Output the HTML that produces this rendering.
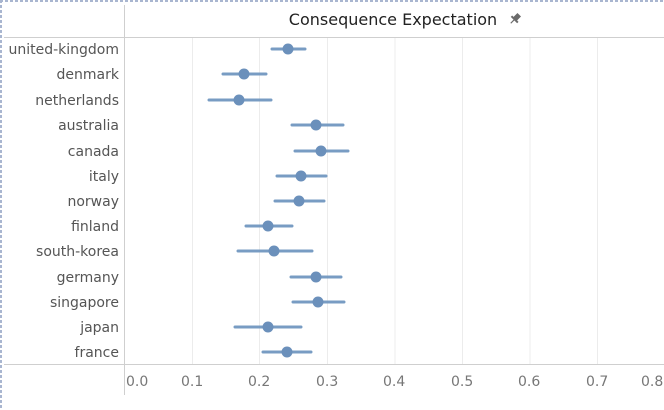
<!DOCTYPE html><html><head><style>body{margin:0;background:#fff}svg{display:block}text{font-family:"DejaVu Sans","Liberation Sans",sans-serif}</style></head><body>
<svg width="664" height="410" xmlns="http://www.w3.org/2000/svg">
<line x1="0" y1="1" x2="664" y2="1" stroke="#a9b6d0" stroke-width="2" stroke-dasharray="3,2"/>
<line x1="1" y1="0" x2="1" y2="410" stroke="#a9b6d0" stroke-width="2" stroke-dasharray="3,2"/>
<line x1="124.5" y1="5" x2="124.5" y2="395" stroke="#cfcfcf"/>
<line x1="4" y1="37.5" x2="664" y2="37.5" stroke="#cfcfcf"/>
<line x1="4" y1="364.5" x2="664" y2="364.5" stroke="#cfcfcf"/>
<g stroke="#ececec">
<line x1="192.5" y1="38" x2="192.5" y2="364"/><line x1="259.5" y1="38" x2="259.5" y2="364"/><line x1="327.5" y1="38" x2="327.5" y2="364"/><line x1="395" y1="38" x2="395" y2="364"/><line x1="462.5" y1="38" x2="462.5" y2="364"/><line x1="530" y1="38" x2="530" y2="364"/><line x1="597.5" y1="38" x2="597.5" y2="364"/></g>
<text x="393" y="25" font-size="16" text-anchor="middle" fill="#222" style="font-weight:500">Consequence Expectation</text>
<g transform="translate(515,19) rotate(45)" fill="#6b6b6b"><rect x="-2.5" y="-6" width="5" height="6"/><rect x="-4.5" y="-0.5" width="9" height="2"/><rect x="-0.6" y="1" width="1.2" height="5"/></g>
<g font-size="14" fill="#555" text-anchor="end">
<text x="119" y="54">united-kingdom</text><text x="119" y="79">denmark</text><text x="119" y="105">netherlands</text><text x="119" y="130">australia</text><text x="119" y="156">canada</text><text x="119" y="181">italy</text><text x="119" y="206">norway</text><text x="119" y="231">finland</text><text x="119" y="256">south-korea</text><text x="119" y="282">germany</text><text x="119" y="307">singapore</text><text x="119" y="332">japan</text><text x="119" y="357">france</text></g>
<g font-size="14" fill="#777">
<text x="126" y="386">0.0</text><text x="181" y="386">0.1</text><text x="248" y="386">0.2</text><text x="316" y="386">0.3</text><text x="383" y="386">0.4</text><text x="451" y="386">0.5</text><text x="518" y="386">0.6</text><text x="586" y="386">0.7</text><text x="641" y="386">0.8</text></g>
<g stroke="#7197c0" stroke-width="3" stroke-linecap="round" opacity="0.95">
<line x1="272" y1="49" x2="305" y2="49"/><line x1="223" y1="74" x2="266" y2="74"/><line x1="209" y1="100" x2="271" y2="100"/><line x1="292" y1="125" x2="343" y2="125"/><line x1="295" y1="151" x2="348" y2="151"/><line x1="277" y1="176" x2="326" y2="176"/><line x1="275" y1="201" x2="324" y2="201"/><line x1="246" y1="226" x2="292" y2="226"/><line x1="238" y1="251" x2="312" y2="251"/><line x1="291" y1="277" x2="341" y2="277"/><line x1="293" y1="302" x2="344" y2="302"/><line x1="235" y1="327" x2="301" y2="327"/><line x1="263" y1="352" x2="311" y2="352"/></g>
<g fill="#6b90bb">
<circle cx="288" cy="49" r="5.5"/><circle cx="244" cy="74" r="5.5"/><circle cx="239" cy="100" r="5.5"/><circle cx="316" cy="125" r="5.5"/><circle cx="321" cy="151" r="5.5"/><circle cx="301" cy="176" r="5.5"/><circle cx="299" cy="201" r="5.5"/><circle cx="268" cy="226" r="5.5"/><circle cx="274" cy="251" r="5.5"/><circle cx="316" cy="277" r="5.5"/><circle cx="318" cy="302" r="5.5"/><circle cx="268" cy="327" r="5.5"/><circle cx="287" cy="352" r="5.5"/></g>
</svg></body></html>
